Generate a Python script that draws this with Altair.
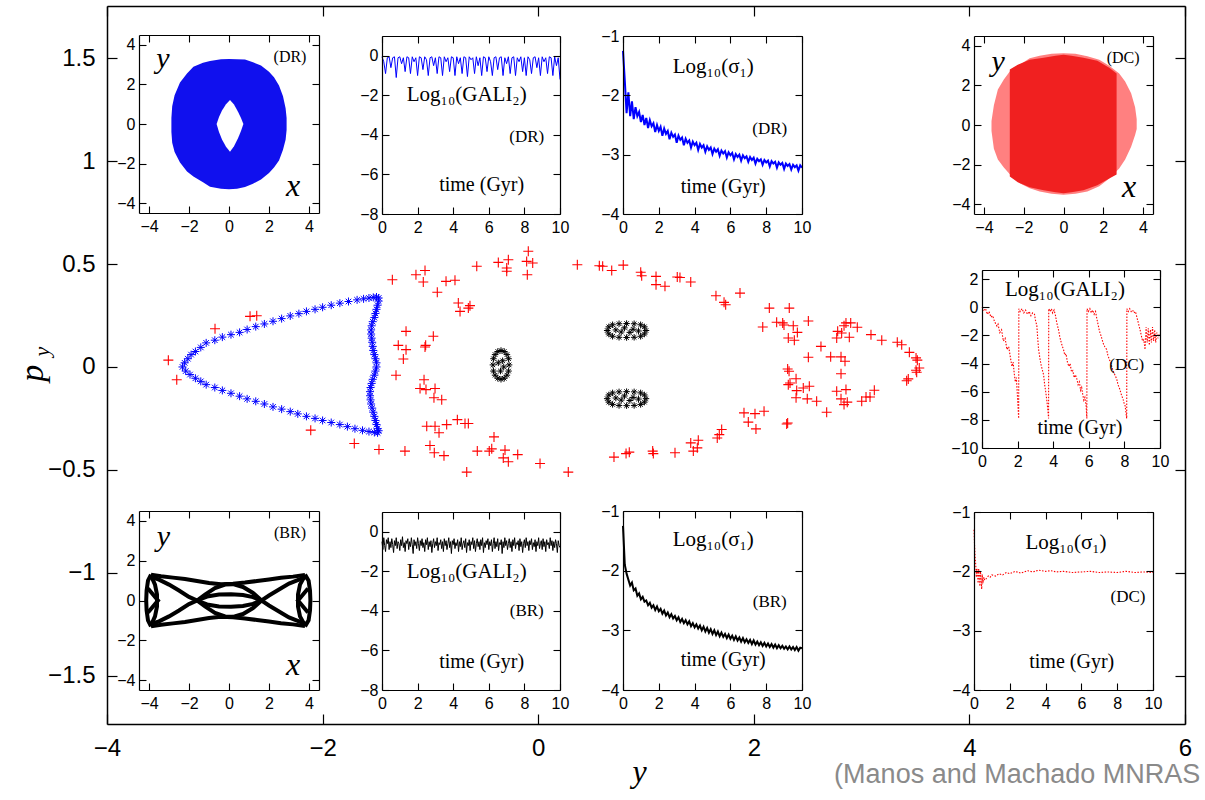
import altair as alt
import pandas as pd

W, H = 1078, 718
SANS = "Liberation Sans Narrow, Liberation Sans, Arial, sans-serif"
SERIF = "Liberation Serif, Times New Roman, DejaVu Serif, serif"

# ---------------- main panel: surface of section (y, p_y) ----------------
dr_main_x = [-3.30, -3.28, -3.25, -3.22, -3.18, -3.13, -3.08, -3.00, -2.93, -2.85,
             -2.77, -2.70, -2.62, -2.54, -2.46, -2.38, -2.30, -2.22, -2.15, -2.07,
             -2.00, -1.92, -1.84, -1.76, -1.68, -1.62, -1.57, -1.53, -1.50, -1.48,
             -1.48, -1.49, -1.50, -1.51, -1.52, -1.535, -1.545, -1.55, -1.55, -1.545,
             -1.54, -1.535, -1.53, -1.52, -1.51, -1.50, -1.50, -1.51, -1.52, -1.535,
             -1.545, -1.555, -1.56, -1.56, -1.555, -1.55, -1.54, -1.53, -1.52, -1.51,
             -1.50, -1.49, -1.48, -1.49,
             -1.52, -1.57, -1.63, -1.70, -1.77, -1.84, -1.92, -2.00, -2.07, -2.15,
             -2.23, -2.30, -2.38, -2.46, -2.54, -2.62, -2.70, -2.77, -2.85, -2.93,
             -3.00, -3.08, -3.13, -3.18, -3.23, -3.27]
dr_main_py = [0.00, 0.02, 0.04, 0.06, 0.075, 0.095, 0.117, 0.13, 0.145, 0.157,
              0.168, 0.182, 0.196, 0.209, 0.222, 0.235, 0.248, 0.259, 0.27, 0.28,
              0.29, 0.30, 0.31, 0.318, 0.326, 0.331, 0.335, 0.338, 0.34, 0.335,
              0.32, 0.30, 0.28, 0.26, 0.24, 0.22, 0.20, 0.18, 0.16, 0.14,
              0.12, 0.10, 0.08, 0.06, 0.04, 0.02, 0.0, -0.02, -0.04, -0.06,
              -0.08, -0.10, -0.12, -0.14, -0.16, -0.18, -0.20, -0.22, -0.24, -0.26,
              -0.28, -0.30, -0.31, -0.32,
              -0.318, -0.314, -0.308, -0.30, -0.29, -0.28, -0.27, -0.26, -0.25, -0.24,
              -0.228, -0.217, -0.205, -0.194, -0.18, -0.167, -0.155, -0.142, -0.128, -0.114,
              -0.10, -0.086, -0.07, -0.055, -0.037, -0.02]

dc_main_x = [-3.431, -3.353, -2.998, -2.673, -2.611, -2.110, -1.706, -1.477, -1.236, -1.353,
             -1.134, -1.050, -1.066, -0.855, -0.772, -0.936, -0.741, -0.725, -0.648, -0.633,
             -0.570, -0.370, -0.277, -0.292, -0.292, -0.092, -0.107, -0.051, -0.101, -1.226,
             -1.298, -1.226, -1.251, -0.973, -1.044, -1.050, -1.319, -1.059, -1.096, -1.041,
             -0.957, -0.967, -0.895, -1.034, -0.957, -0.920, -0.849, -0.750, -0.679, -0.648,
             -1.004, -0.964, -0.874, -0.410, -0.565, -0.454, -0.431, -0.308, -0.324, -0.277,
             -0.190, -0.663, 0.017,
             0.363, 0.567, 0.598, 0.682, 0.789, 0.951, 0.960, 1.093, 1.093, 1.176,
             1.290, 1.315, 1.415, 1.649, 1.724, 1.739, 1.872, 2.144, 2.329, 2.083,
             2.212, 2.268, 2.280, 2.366, 2.506, 2.320, 2.376, 2.404, 2.623, 2.506,
             2.713, 2.809, 2.846, 2.809, 2.314, 2.327, 2.392, 2.336, 2.320, 2.398,
             2.459, 2.515, 2.392, 2.496, 2.583, 2.769, 2.855, 2.809, 2.837, 2.867,
             2.676, 2.778, 2.837, 2.855, 2.899, 2.960, 2.815, 2.886, 2.769, 3.087,
             3.187, 3.331, 3.372, 3.443, 3.505, 3.517, 3.535, 3.505, 3.511, 3.433,
             3.418, 3.118, 3.001, 3.041, 3.078, 1.909, 2.011, 2.095, 1.949, 2.020,
             2.314, 2.305, 1.702, 1.680, 1.661, 1.485, 1.415, 1.439, 1.476, 1.269,
             1.062, 1.068, 0.845, 0.815, 0.703, 0.279]
dc_main_py = [0.033, -0.062, 0.186, 0.246, 0.249, -0.307, -0.372, -0.401, -0.409, 0.424,
              0.448, 0.469, 0.413, 0.416, 0.421, 0.363, 0.311, 0.270, 0.286, 0.298,
              0.489, 0.508, 0.521, 0.481, 0.465, 0.562, 0.513, 0.505, 0.448, 0.173,
              0.105, 0.084, 0.039, 0.149, 0.105, 0.097, -0.040, -0.062, -0.105, -0.110,
              -0.105, -0.150, -0.159, -0.288, -0.288, -0.320, -0.280, -0.256, -0.275, -0.275,
              -0.382, -0.417, -0.431, -0.340, -0.409, -0.409, -0.398, -0.404, -0.442, -0.461,
              -0.426, -0.511, -0.469,
              0.497, 0.492, 0.489, 0.469, 0.495, 0.460, 0.443, 0.440, 0.400, 0.392,
              0.437, 0.435, 0.413, 0.346, 0.314, 0.302, 0.359, 0.286, 0.286, 0.194,
              0.217, 0.214, 0.204, 0.200, 0.223, 0.141, 0.130, 0.168, 0.100, 0.047,
              0.049, 0.049, 0.028, -0.033, -0.010, -0.021, -0.057, -0.078, -0.086, -0.115,
              -0.102, -0.094, -0.150, -0.155, -0.167, -0.118, -0.110, -0.155, -0.183, -0.171,
              -0.220, 0.173, 0.200, 0.214, 0.214, 0.193, 0.165, 0.144, 0.141, 0.157,
              0.130, 0.120, 0.108, 0.071, 0.044, 0.033, -0.005, -0.016, -0.026, -0.058,
              -0.067, -0.113, -0.167, -0.146, -0.146, -0.223, -0.227, -0.215, -0.268, -0.301,
              -0.272, -0.277, -0.304, -0.329, -0.345, -0.356, -0.369, -0.409, -0.393, -0.417,
              -0.409, -0.421, -0.414, -0.421, -0.438, -0.511]

br_main_x = [-0.42, -0.415, -0.40, -0.375, -0.345, -0.315, -0.29, -0.275, -0.27, -0.275,
             -0.29, -0.315, -0.345, -0.375, -0.40, -0.415, -0.37, -0.32, -0.35, -0.33,
             0.64, 0.655, 0.69, 0.75, 0.82, 0.89, 0.95, 0.985, 1.0, 0.985,
             0.95, 0.89, 0.82, 0.75, 0.69, 0.655, 0.72, 0.80, 0.88, 0.93, 0.85, 0.77,
             0.64, 0.655, 0.69, 0.75, 0.82, 0.89, 0.95, 0.985, 1.0, 0.985,
             0.95, 0.89, 0.82, 0.75, 0.69, 0.655, 0.72, 0.80, 0.88, 0.93, 0.85, 0.77]
br_main_py = [0.01, 0.04, 0.06, 0.075, 0.08, 0.075, 0.06, 0.04, 0.01, -0.02,
              -0.04, -0.055, -0.06, -0.055, -0.04, -0.02, 0.02, 0.0, -0.02, 0.03,
              0.177, 0.195, 0.205, 0.21, 0.211, 0.21, 0.205, 0.195, 0.177, 0.16,
              0.149, 0.144, 0.143, 0.144, 0.149, 0.16, 0.18, 0.19, 0.183, 0.175, 0.168, 0.17,
              -0.154, -0.136, -0.126, -0.121, -0.12, -0.121, -0.126, -0.136, -0.154, -0.171,
              -0.182, -0.187, -0.188, -0.187, -0.182, -0.171, -0.151, -0.141, -0.148, -0.156, -0.163, -0.161]

main_x_ticks = [-4, -2, 0, 2, 4, 6]
main_y_ticks = [-1.5, -1, -0.5, 0, 0.5, 1, 1.5]

# ---------------- inset data ----------------
# (DR) orbit envelope in (x, y)
dr_orb_x = [-2.88, -2.84, -2.72, -2.45, -2.1, -1.78, -1.3, -0.95, -0.4, 0.0,
            0.4, 0.8, 1.2, 1.6, 2.0, 2.25, 2.5, 2.7, 2.83, 2.88]
dr_orb_top = [0.3, 0.9, 1.45, 2.1, 2.55, 2.90, 3.1, 3.19, 3.27, 3.29,
              3.28, 3.26, 3.12, 2.96, 2.64, 2.36, 1.95, 1.4, 0.8, 0.3]
dr_orb_bot = [-0.4, -0.95, -1.42, -1.95, -2.4, -2.66, -2.95, -3.17, -3.27, -3.30,
              -3.27, -3.18, -3.02, -2.80, -2.48, -2.20, -1.85, -1.3, -0.8, -0.3]
dr_hole_x = [-0.62, -0.5, -0.35, -0.15, 0.05, 0.25, 0.45, 0.6, 0.72]
dr_hole_top = [0.0, 0.35, 0.68, 1.0, 1.21, 0.98, 0.62, 0.3, 0.0]
dr_hole_bot = [0.0, -0.4, -0.78, -1.15, -1.40, -1.12, -0.72, -0.35, 0.0]

# (DC) orbit envelope
dc_orb_x = [-3.62, -3.5, -3.3, -3.0, -2.6, -2.2, -1.7, -1.2, -0.6, 0.0,
            0.6, 1.2, 1.8, 2.3, 2.8, 3.1, 3.4, 3.6, 3.68]
dc_orb_top = [0.2, 1.0, 1.8, 2.3, 2.85, 3.05, 3.37, 3.5, 3.6, 3.63,
              3.6, 3.48, 3.3, 3.0, 2.6, 2.2, 1.6, 0.9, 0.3]
dc_orb_bot = [-0.3, -1.2, -1.75, -2.15, -2.6, -2.95, -3.2, -3.36, -3.48, -3.53,
              -3.48, -3.36, -3.1, -2.7, -2.2, -1.75, -1.1, -0.5, -0.2]
dc_core_x = [-2.7, -2.3, -1.7, -1.0, -0.4, 0.0, 0.4, 1.0, 1.7, 2.3, 2.67]
dc_core_top = [2.8, 3.05, 3.3, 3.4, 3.5, 3.55, 3.5, 3.4, 3.25, 2.9, 2.6]
dc_core_bot = [-2.6, -2.9, -3.15, -3.3, -3.4, -3.45, -3.4, -3.3, -3.05, -2.7, -2.5]

# (BR) orbit strands
br_orb = {
    "P1": ([-3.95, -3.5, -3.0, -2.5, -2.0, -1.6, -1.2, -0.7, -0.2, 0.2, 0.7, 1.2, 1.6, 2.0, 2.5, 3.0, 3.5, 3.9],
           [1.2, 1.05, 0.8, 0.5, 0.18, 0.0, -0.3, -0.62, -0.8, -0.82, -0.68, -0.38, -0.02, 0.25, 0.55, 0.85, 1.05, 1.2]),
    "P2": ([-3.95, -3.5, -3.0, -2.5, -2.0, -1.6, -1.2, -0.7, -0.2, 0.2, 0.7, 1.2, 1.6, 2.0, 2.5, 3.0, 3.5, 3.9],
           [-1.2, -1.05, -0.8, -0.5, -0.18, 0.0, 0.3, 0.62, 0.8, 0.82, 0.68, 0.38, 0.02, -0.25, -0.55, -0.85, -1.05, -1.2]),
    "P3": ([-3.9, -3.4, -2.8, -2.2, -1.6, -1.0, -0.4, 0.2, 0.8, 1.4, 2.0, 2.6, 3.2, 3.8],
           [1.3, 1.22, 1.15, 1.08, 0.98, 0.88, 0.82, 0.84, 0.9, 0.98, 1.06, 1.14, 1.2, 1.28]),
    "P4": ([-3.9, -3.4, -2.8, -2.2, -1.6, -1.0, -0.4, 0.2, 0.8, 1.4, 2.0, 2.6, 3.2, 3.8],
           [-1.3, -1.22, -1.15, -1.08, -0.98, -0.88, -0.82, -0.84, -0.9, -0.98, -1.06, -1.14, -1.2, -1.28]),
    "P5": ([-1.6, -1.1, -0.5, 0.1, 0.7, 1.2, 1.6], [0.0, 0.2, 0.3, 0.32, 0.28, 0.17, 0.0]),
    "P6": ([-1.6, -1.1, -0.5, 0.1, 0.7, 1.2, 1.6], [0.0, -0.2, -0.3, -0.32, -0.28, -0.17, 0.0]),
    "L1": ([-3.9, -4.05, -4.12, -4.14, -4.12, -4.05, -3.9], [1.3, 1.0, 0.5, 0.0, -0.5, -1.0, -1.3]),
    "L2": ([-3.9, -3.7, -3.6, -3.6, -3.7, -3.9], [1.25, 0.8, 0.3, -0.3, -0.8, -1.25]),
    "L3": ([-4.05, -3.55, -4.05], [0.6, 0.0, -0.6]),
    "R1": ([3.8, 3.98, 4.05, 4.07, 4.05, 3.98, 3.8], [1.3, 1.0, 0.5, 0.0, -0.5, -1.0, -1.3]),
    "R2": ([3.8, 3.55, 3.45, 3.45, 3.55, 3.8], [1.25, 0.8, 0.3, -0.3, -0.8, -1.25]),
    "R3": ([3.95, 3.45, 3.95], [0.6, 0.0, -0.6]),
}

# Log10(GALI2) for DR, sampled every 0.1 Gyr
gali_dr = [-0.05, -0.3, -0.9, -0.1, -0.05, -0.6, -0.1, -0.05, -1.1, -0.1,
           -0.05, -0.4, -0.1, -0.8, -0.05, -0.1, -0.9, -0.05, -0.3, -0.1,
           -1.0, -0.05, -0.1, -0.7, -0.05, -0.2, -1.0, -0.1, -0.05, -0.5,
           -0.1, -0.9, -0.05, -0.1, -1.0, -0.05, -0.3, -0.1, -0.8, -0.05,
           -0.1, -1.0, -0.05, -0.4, -0.1, -0.9, -0.05, -0.1, -1.05, -0.05,
           -0.2, -0.1, -0.9, -0.05, -0.5, -0.1, -1.0, -0.05, -0.1, -0.8,
           -0.05, -0.3, -1.0, -0.1, -0.05, -0.7, -0.1, -0.05, -1.0, -0.1,
           -0.4, -0.05, -0.9, -0.1, -0.05, -1.0, -0.1, -0.3, -0.05, -0.8,
           -0.1, -1.0, -0.05, -0.2, -0.9, -0.1, -0.05, -0.6, -0.1, -1.0,
           -0.05, -0.3, -0.1, -0.9, -0.05, -0.1, -1.0, -0.05, -0.5, -0.1,
           -1.2]
# Log10(sigma1) for DR, every 0.1 Gyr
sigma_dr = [-1.25, -1.75, -2.3, -1.95, -2.35, -2.1, -2.4, -2.2, -2.35, -2.28,
            -2.45, -2.33, -2.5, -2.38, -2.55, -2.42, -2.52, -2.47, -2.62, -2.5,
            -2.6, -2.53, -2.68, -2.56, -2.65, -2.6, -2.74, -2.63, -2.7, -2.66,
            -2.8, -2.68, -2.75, -2.71, -2.84, -2.73, -2.8, -2.76, -2.88, -2.78,
            -2.84, -2.8, -2.92, -2.82, -2.88, -2.84, -2.95, -2.86, -2.92, -2.88,
            -2.99, -2.9, -2.95, -2.91, -3.02, -2.93, -2.98, -2.94, -3.05, -2.96,
            -3.01, -2.97, -3.08, -2.99, -3.04, -3.0, -3.1, -3.01, -3.06, -3.03,
            -3.12, -3.04, -3.09, -3.05, -3.15, -3.07, -3.11, -3.08, -3.17, -3.09,
            -3.13, -3.1, -3.2, -3.11, -3.15, -3.12, -3.22, -3.13, -3.17, -3.14,
            -3.24, -3.15, -3.19, -3.16, -3.25, -3.17, -3.21, -3.18, -3.27, -3.18,
            -3.22]
# Log10(GALI2) for BR, every 0.05 Gyr
gali_br = [-0.5, -0.9, -0.3, -0.7, -1.0, -0.4, -0.6, -0.3, -0.9, -0.5, -0.8, -0.35, -0.65, -1.05, -0.45, -0.7, -0.3, -0.85, -0.5, -0.6,
           -0.95, -0.4, -0.7, -0.25, -0.8, -0.55, -1.0, -0.45, -0.6, -0.35, -0.9, -0.5, -0.75, -0.3, -0.65, -1.1, -0.4, -0.7, -0.5, -0.85,
           -0.3, -0.6, -0.95, -0.45, -0.7, -0.35, -0.8, -0.55, -1.0, -0.4, -0.65, -0.3, -0.9, -0.5, -0.75, -0.45, -1.05, -0.6, -0.35, -0.8,
           -0.5, -0.7, -0.3, -0.95, -0.55, -0.65, -0.4, -0.85, -0.5, -1.0, -0.35, -0.7, -0.45, -0.9, -0.6, -0.3, -0.8, -0.5, -1.1, -0.45,
           -0.65, -0.35, -0.85, -0.55, -0.7, -0.4, -1.0, -0.5, -0.75, -0.3, -0.9, -0.6, -0.45, -0.8, -0.35, -1.05, -0.55, -0.7, -0.4, -0.95,
           -0.5, -0.65, -0.3, -0.85, -0.45, -1.0, -0.6, -0.35, -0.75, -0.5, -0.9, -0.4, -0.7, -0.3, -1.05, -0.55, -0.8, -0.45, -0.65, -0.35,
           -0.9, -0.5, -0.7, -0.4, -1.0, -0.6, -0.3, -0.85, -0.5, -0.75, -0.35, -0.95, -0.55, -0.65, -0.4, -1.1, -0.5, -0.8, -0.3, -0.7,
           -0.45, -0.9, -0.6, -0.35, -0.8, -0.5, -1.0, -0.4, -0.7, -0.3, -0.85, -0.55, -0.65, -0.45, -0.95, -0.35, -0.75, -0.5, -1.05, -0.6,
           -0.4, -0.8, -0.3, -0.7, -0.5, -0.95, -0.45, -0.65, -0.35, -0.9, -0.55, -0.75, -0.4, -1.0, -0.5, -0.7, -0.3, -0.85, -0.6, -0.45,
           -0.9, -0.35, -0.75, -0.5, -1.0, -0.4, -0.65, -0.55, -0.85, -0.3, -0.7, -0.45, -0.95, -0.5, -0.8, -0.4, -0.6, -1.05, -0.45, -0.7,
           -0.8]
# Log10(sigma1) for BR, every 0.1 Gyr
sigma_br = [-1.25, -1.9, -2.05, -2.15, -2.25, -2.2, -2.33, -2.3, -2.42, -2.38,
            -2.48, -2.44, -2.52, -2.5, -2.58, -2.54, -2.62, -2.58, -2.66, -2.6,
            -2.68, -2.64, -2.72, -2.67, -2.75, -2.7, -2.78, -2.73, -2.8, -2.76,
            -2.83, -2.78, -2.86, -2.81, -2.88, -2.83, -2.9, -2.85, -2.93, -2.88,
            -2.95, -2.9, -2.97, -2.92, -3.0, -2.94, -3.02, -2.96, -3.04, -2.98,
            -3.06, -3.0, -3.08, -3.02, -3.1, -3.04, -3.11, -3.06, -3.13, -3.07,
            -3.14, -3.09, -3.16, -3.1, -3.17, -3.12, -3.19, -3.13, -3.2, -3.15,
            -3.21, -3.16, -3.23, -3.17, -3.24, -3.19, -3.25, -3.2, -3.26, -3.21,
            -3.27, -3.22, -3.28, -3.23, -3.29, -3.24, -3.3, -3.25, -3.3, -3.26,
            -3.31, -3.27, -3.32, -3.27, -3.32, -3.28, -3.33, -3.28, -3.34, -3.29,
            -3.3]
# Log10(GALI2) for DC (irregular sampling)
gali_dc_t = [0.0, 0.1, 0.2, 0.3, 0.4, 0.5, 0.6, 0.7, 0.84, 0.9, 1.0, 1.1, 1.2, 1.3, 1.4, 1.5, 1.6, 1.68, 1.75, 1.81, 1.87, 1.93, 2.0, 2.06,
             2.07, 2.15, 2.25, 2.35, 2.45, 2.55, 2.65, 2.75, 2.85, 2.95, 3.0, 3.08, 3.13, 3.18, 3.25, 3.32, 3.4, 3.46, 3.52, 3.58, 3.64, 3.7, 3.74,
             3.75, 3.83, 3.9, 3.97, 4.05, 4.13, 4.2, 4.3, 4.37, 4.45, 4.52, 4.58, 4.65, 4.72, 4.8, 4.88, 4.95, 5.03, 5.1, 5.18, 5.25, 5.33, 5.4,
             5.47, 5.54, 5.6, 5.66, 5.72, 5.78, 5.85, 5.89,
             5.9, 5.98, 6.06, 6.14, 6.22, 6.3, 6.38, 6.45, 6.54, 6.6, 6.68, 6.75, 6.82, 6.9, 7.0, 7.07, 7.15, 7.22, 7.29, 7.36, 7.43, 7.5,
             7.57, 7.64, 7.71, 7.78, 7.85, 7.92, 7.98, 8.04, 8.13,
             8.14, 8.22, 8.3, 8.38, 8.46, 8.54, 8.62, 8.7, 8.78, 8.88, 8.95, 9.02, 9.09, 9.16, 9.22, 9.28, 9.34, 9.4, 9.46, 9.52, 9.58, 9.64,
             9.7, 9.76, 9.82, 9.88, 9.94, 10.0]
gali_dc = [0.0, -0.2, -0.1, -0.5, -0.3, -0.7, -0.6, -1.0, -1.34, -1.2, -1.8, -1.6, -2.4, -2.2, -3.0, -2.8, -3.6, -4.2, -3.9, -4.7, -5.3, -5.0, -6.5, -7.9,
           -0.1, -0.3, -0.1, -0.4, -0.2, -0.5, -0.3, -0.6, -0.4, -0.5, -0.9, -1.3, -2.2, -3.0, -3.6, -4.1, -4.5, -4.8, -5.5, -6.0, -6.6, -7.3, -7.9,
           -0.1, -0.3, -0.1, -0.4, -0.2, -0.6, -1.1, -1.6, -2.1, -2.5, -2.8, -3.0, -3.4, -3.3, -3.9, -4.2, -4.0, -4.6, -4.5, -5.0, -4.8, -5.1, -5.5,
           -5.3, -5.9, -5.7, -6.2, -6.6, -6.4, -7.0, -7.9,
           -0.1, -0.3, -0.1, -0.4, -0.2, -0.5, -0.3, -0.8, -1.34, -1.7, -2.0, -2.3, -2.6, -2.8, -3.0, -3.4, -3.7, -3.9, -4.2, -4.5, -4.7, -4.9,
           -5.1, -5.5, -5.7, -6.0, -6.3, -6.5, -6.8, -7.0, -7.9,
           -0.1, -0.3, -0.1, -0.3, -0.2, -0.4, -0.3, -0.7, -1.1, -1.6, -2.0, -2.4, -2.3, -3.0, -1.4, -2.5, -1.5, -2.7, -1.6, -2.5, -1.4, -2.4,
           -1.6, -2.5, -1.8, -2.2, -1.9, -2.0]
# Log10(sigma1) for DC (irregular sampling)
sigma_dc_t = [0, 0.03, 0.06, 0.1, 0.13, 0.16, 0.2, 0.23, 0.26, 0.3, 0.33, 0.36, 0.4, 0.43, 0.46, 0.5, 0.55, 0.6, 0.7, 0.8,
              0.9, 1.0, 1.2, 1.4, 1.6, 1.8, 2.0, 2.3, 2.6, 3.0, 3.3, 3.6, 4.0, 4.3, 4.6, 5.0, 5.5, 6.0, 6.5, 7.0,
              7.5, 8.0, 8.5, 9.0, 9.5, 10.0]
sigma_dc = [-1.3, -1.55, -1.75, -1.9, -2.1, -1.95, -2.05, -2.2, -1.95, -2.1, -2.25, -2.0, -2.15, -2.3, -2.05, -2.2, -2.1, -2.15, -2.12, -2.08,
            -2.1, -2.06, -2.08, -2.04, -2.06, -2.02, -2.04, -2.0, -2.03, -1.99, -2.01, -1.98, -2.0, -1.99, -2.01, -2.0, -2.02, -2.01, -2.0, -2.02,
            -2.01, -2.02, -2.0, -2.02, -2.01, -2.02]

orbit_ticks = [-4, -2, 0, 2, 4]
time_ticks = [0, 2, 4, 6, 8, 10]

# ---------------- panel geometry (pixel ranges inside the main plot area) ----------------
PANELS = {
    "M": dict(xd=[-4, 6], yd=[-1.735, 1.754], px=[0, W], py=[0, H], xt=main_x_ticks, yt=main_y_ticks),
    "A": dict(xd=[-4.5, 4.5], yd=[-4.5, 4.5], px=[32, 212], py=[29, 207], xt=orbit_ticks, yt=orbit_ticks),
    "B": dict(xd=[0, 10], yd=[-8, 1], px=[275, 453], py=[30, 208], xt=time_ticks, yt=[-8, -6, -4, -2, 0]),
    "C": dict(xd=[0, 10], yd=[-4, -1], px=[516, 695], py=[30, 208], xt=time_ticks, yt=[-4, -3, -2, -1]),
    "D": dict(xd=[-4.5, 4.5], yd=[-4.5, 4.5], px=[867, 1046], py=[30, 208], xt=orbit_ticks, yt=orbit_ticks),
    "E": dict(xd=[0, 10], yd=[-10, 2.65], px=[875, 1053], py=[264, 442], xt=time_ticks, yt=[-10, -8, -6, -4, -2, 0, 2]),
    "F": dict(xd=[-4.5, 4.5], yd=[-4.5, 4.5], px=[32, 212], py=[505, 684], xt=orbit_ticks, yt=orbit_ticks),
    "G": dict(xd=[0, 10], yd=[-8, 1], px=[275, 453], py=[506, 684], xt=time_ticks, yt=[-8, -6, -4, -2, 0]),
    "H": dict(xd=[0, 10], yd=[-4, -1], px=[516, 695], py=[505, 684], xt=time_ticks, yt=[-4, -3, -2, -1]),
    "I": dict(xd=[0, 10], yd=[-4, -1], px=[867, 1046], py=[506, 684], xt=time_ticks, yt=[-4, -3, -2, -1]),
}


def xs(k):
    g = PANELS[k]
    return alt.Scale(domain=g["xd"], range=g["px"], nice=False, zero=False)


def ys(k):
    g = PANELS[k]
    return alt.Scale(domain=g["yd"], range=[g["py"][1], g["py"][0]], nice=False, zero=False)


def XE(k, f="x"):
    return alt.X(f"{f}:Q", scale=xs(k), axis=None)


def YE(k, f="y"):
    return alt.Y(f"{f}:Q", scale=ys(k), axis=None)


def frame_layers(k, tick=7, lab_size=16, xpad=5, ypad=4, yfmt=None, dom_w=1.2, tick_w=1.1):
    g = PANELS[k]
    L, R = g["px"]
    T, B = g["py"]
    df = pd.DataFrame({"x": g["xd"], "y": g["yd"]})
    base = alt.Chart(df).mark_point(opacity=0)
    lab = dict(ticks=False, domain=False, grid=False, title=None, labelFont=SANS,
               labelFontSize=lab_size, labelColor="black", labelFlush=False, labelOverlap=False)
    tk = dict(labels=False, grid=False, title=None, tickSize=tick, tickColor="black",
              tickWidth=tick_w, domainColor="black", domainWidth=dom_w, zindex=1)
    yl = dict(lab)
    if yfmt:
        yl["format"] = yfmt
    labels = base.encode(
        x=alt.X("x:Q", scale=xs(k), axis=alt.Axis(values=g["xt"], orient="bottom", offset=B - H, labelPadding=xpad, **lab)),
        y=alt.Y("y:Q", scale=ys(k), axis=alt.Axis(values=g["yt"], orient="left", offset=-L, labelPadding=ypad, **yl)),
    )
    ticks_a = base.encode(
        x=alt.X("x:Q", scale=xs(k), axis=alt.Axis(values=g["xt"], orient="top", offset=-B, **tk)),
        y=alt.Y("y:Q", scale=ys(k), axis=alt.Axis(values=g["yt"], orient="right", offset=L - W, **tk)),
    )
    ticks_b = base.encode(
        x=alt.X("x:Q", scale=xs(k), axis=alt.Axis(values=g["xt"], orient="bottom", offset=T - H, **tk)),
        y=alt.Y("y:Q", scale=ys(k), axis=alt.Axis(values=g["yt"], orient="left", offset=-R, **tk)),
    )
    return [labels, ticks_a, ticks_b]


def text_layer(k, x, y, txt, size, italic=False, align="center", color="black", font=SERIF, angle=0):
    df = pd.DataFrame({"x": [x], "y": [y], "t": [txt]})
    return alt.Chart(df).mark_text(font=font, fontSize=size, fontStyle="italic" if italic else "normal",
                                   align=align, baseline="middle", color=color, angle=angle).encode(
        x=XE(k), y=YE(k), text="t:N")


def line_layer(k, t, v, color, width, dash=None):
    df = pd.DataFrame({"x": t, "y": v, "i": list(range(len(t)))})
    kw = dict(color=color, strokeWidth=width)
    if dash:
        kw["strokeDash"] = dash
    return alt.Chart(df).mark_line(**kw).encode(x=XE(k), y=YE(k), order="i:Q")


def area_layer(k, x, top, bot, color):
    df = pd.DataFrame({"x": x, "y": top, "y2": bot})
    return alt.Chart(df).mark_area(color=color, opacity=1).encode(
        x=XE(k), y=YE(k), y2=alt.Y2("y2:Q"))


layers = []

# main panel frame and axes
layers += frame_layers("M", tick=10, lab_size=24, xpad=12, ypad=12, yfmt="~g", dom_w=1.5, tick_w=1.2)

ASTER = "M-1,0L1,0M0,-1L0,1M-0.7,-0.7L0.7,0.7M-0.7,0.7L0.7,-0.7"
PLUS = "M-1,0L1,0M0,-1L0,1"

layers.append(alt.Chart(pd.DataFrame({"x": dr_main_x, "y": dr_main_py})).mark_point(
    shape=ASTER, size=64, filled=False, color="#0000ff", strokeWidth=1, opacity=1).encode(x=XE("M"), y=YE("M")))
layers.append(alt.Chart(pd.DataFrame({"x": dc_main_x, "y": dc_main_py})).mark_point(
    shape=PLUS, size=100, filled=False, color="#ff0000", strokeWidth=1.1, opacity=1).encode(x=XE("M"), y=YE("M")))
layers.append(alt.Chart(pd.DataFrame({"x": br_main_x, "y": br_main_py})).mark_point(
    shape=ASTER, size=42, filled=False, color="#000000", strokeWidth=1, opacity=1).encode(x=XE("M"), y=YE("M")))

# main titles
layers.append(text_layer("M", 0.94, -1.968, "y", 32, italic=True))
layers.append(text_layer("M", -4.69, -0.03, "p", 34, italic=True, angle=270))
layers.append(text_layer("M", -4.60, 0.075, "y", 22, italic=True, angle=270))
layers.append(text_layer("M", 2.745, -1.985, "(Manos and Machado MNRAS", 27, align="left",
                         color="#8a8a8a", font=SANS))

# ---- inset A: DR orbit ----
layers.append(area_layer("A", dr_orb_x, dr_orb_top, dr_orb_bot, "#1010ee"))
layers.append(area_layer("A", dr_hole_x, dr_hole_top, dr_hole_bot, "#ffffff"))
layers += frame_layers("A")
layers.append(text_layer("A", -3.3, 3.3, "y", 30, italic=True))
layers.append(text_layer("A", 3.05, 3.4, "(DR)", 16))
layers.append(text_layer("A", 3.2, -3.15, "x", 32, italic=True))

# ---- inset B: GALI DR ----
layers.append(line_layer("B", [i * 0.1 for i in range(len(gali_dr))], gali_dr, "#0000ff", 1))
layers += frame_layers("B")
layers.append(text_layer("B", 4.76, -1.98, "Log₁₀(GALI₂)", 21))
layers.append(text_layer("B", 8.13, -4.09, "(DR)", 17))
layers.append(text_layer("B", 5.6, -6.53, "time (Gyr)", 20))

# ---- inset C: sigma DR ----
layers.append(line_layer("C", [i * 0.1 for i in range(len(sigma_dr))], sigma_dr, "#0000ff", 2))
layers += frame_layers("C")
layers.append(text_layer("C", 5.04, -1.52, "Log₁₀(σ₁)", 21))
layers.append(text_layer("C", 8.2, -2.56, "(DR)", 17))
layers.append(text_layer("C", 5.6, -3.54, "time (Gyr)", 20))

# ---- inset D: DC orbit ----
layers.append(area_layer("D", dc_orb_x, dc_orb_top, dc_orb_bot, "#ff8080"))
layers.append(area_layer("D", dc_core_x, dc_core_top, dc_core_bot, "#f02020"))
layers += frame_layers("D")
layers.append(text_layer("D", -3.28, 3.2, "y", 30, italic=True))
layers.append(text_layer("D", 3.0, 3.37, "(DC)", 16))
layers.append(text_layer("D", 3.3, -3.16, "x", 32, italic=True))

# ---- inset E: GALI DC ----
layers.append(line_layer("E", gali_dc_t, gali_dc, "#ff0000", 1.1, dash=[1.5, 1.5]))
layers += frame_layers("E")
layers.append(text_layer("E", 4.66, 1.23, "Log₁₀(GALI₂)", 21))
layers.append(text_layer("E", 8.13, -4.08, "(DC)", 17))
layers.append(text_layer("E", 5.5, -8.57, "time (Gyr)", 20))

# ---- inset F: BR orbit ----
br_rows = []
for name, (bx, by) in br_orb.items():
    for j, (a, b) in enumerate(zip(bx, by)):
        br_rows.append({"s": name, "i": j, "x": a, "y": b})
layers.append(alt.Chart(pd.DataFrame(br_rows)).mark_line(color="black", strokeWidth=4).encode(
    x=XE("F"), y=YE("F"), detail="s:N", order="i:Q"))
layers += frame_layers("F")
layers.append(text_layer("F", -3.28, 3.2, "y", 30, italic=True))
layers.append(text_layer("F", 3.05, 3.38, "(BR)", 16))
layers.append(text_layer("F", 3.2, -3.24, "x", 32, italic=True))

# ---- inset G: GALI BR ----
layers.append(line_layer("G", [i * 0.05 for i in range(len(gali_br))], gali_br, "#000000", 1))
layers += frame_layers("G")
layers.append(text_layer("G", 4.76, -2.01, "Log₁₀(GALI₂)", 21))
layers.append(text_layer("G", 8.13, -4.03, "(BR)", 17))
layers.append(text_layer("G", 5.6, -6.56, "time (Gyr)", 20))

# ---- inset H: sigma BR ----
layers.append(line_layer("H", [i * 0.1 for i in range(len(sigma_br))], sigma_br, "#000000", 2))
layers += frame_layers("H")
layers.append(text_layer("H", 5.04, -1.49, "Log₁₀(σ₁)", 21))
layers.append(text_layer("H", 8.2, -2.52, "(BR)", 17))
layers.append(text_layer("H", 5.6, -3.50, "time (Gyr)", 20))

# ---- inset I: sigma DC ----
layers.append(line_layer("I", sigma_dc_t, sigma_dc, "#ff0000", 1.1, dash=[1.5, 1.5]))
layers += frame_layers("I")
layers.append(text_layer("I", 5.14, -1.53, "Log₁₀(σ₁)", 21))
layers.append(text_layer("I", 8.6, -2.43, "(DC)", 17))
layers.append(text_layer("I", 5.46, -3.52, "time (Gyr)", 20))

chart = alt.layer(*layers).resolve_scale(x="independent", y="independent").properties(
    width=W, height=H,
    autosize=alt.AutoSizeParams(type="none"),
    padding={"left": 107, "top": 6, "right": 20, "bottom": 76},
    background="white",
).configure_view(stroke=None)

chart.save("out.html", embed_options={"renderer": "svg", "actions": False})
